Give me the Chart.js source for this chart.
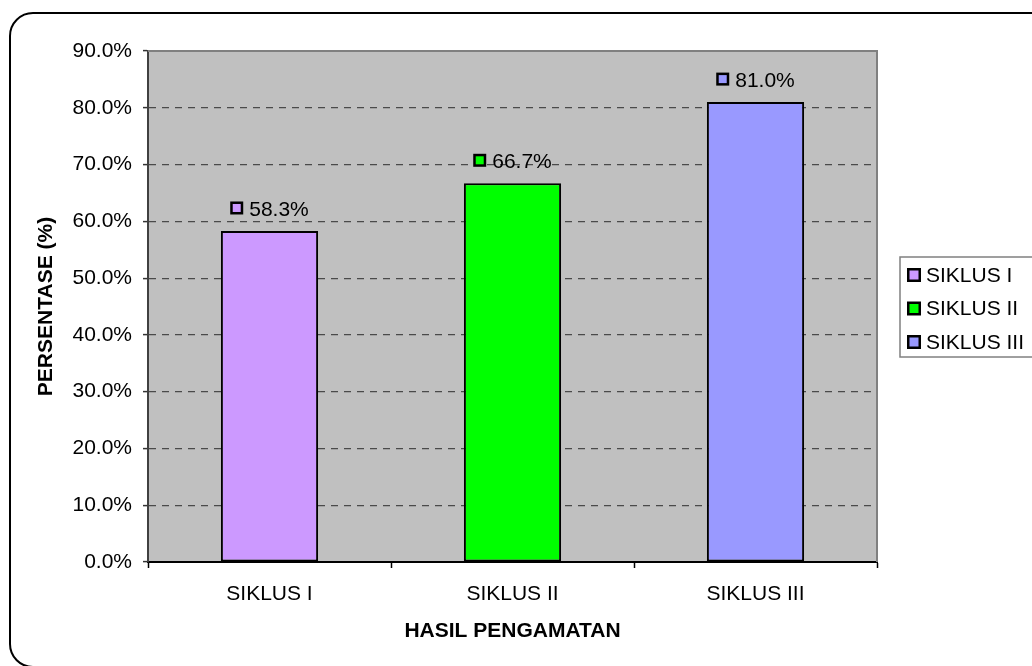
<!DOCTYPE html>
<html>
<head>
<meta charset="utf-8">
<script src="https://cdn.jsdelivr.net/npm/chart.js@4.4.0/dist/chart.umd.min.js"></script>
<style>
  html, body { margin: 0; padding: 0; background: #fff; overflow: hidden; }
  #frame {
    position: absolute; left: 9px; top: 12px; width: 1100px; height: 656px;
    border: 2px solid #000; border-radius: 24px; box-sizing: border-box;
  }
  #chart { position: absolute; left: 0; top: 0; }
</style>
</head>
<body>
<div id="frame"></div>
<canvas id="chart" width="1032" height="666"></canvas>
<script>
// データ
const categories = ['SIKLUS I', 'SIKLUS II', 'SIKLUS III'];
const seriesNames = ['SIKLUS I', 'SIKLUS II', 'SIKLUS III'];
const seriesValues = [58.3, 66.7, 81.0];
const seriesColors = ['#CC99FF', '#00FF00', '#9999FF'];
const yTicks = [0, 10, 20, 30, 40, 50, 60, 70, 80, 90];

const FONT = "'Liberation Sans', Arial, sans-serif";
Chart.defaults.font.family = FONT;
Chart.defaults.color = '#000';

// 凡例キー（黒枠つきの小さい四角）
function drawKey(ctx, x, y, s, color) {
  ctx.fillStyle = '#000';
  ctx.fillRect(x, y, s, s);
  ctx.fillStyle = color;
  ctx.fillRect(x + 2.5, y + 2.5, s - 5, s - 5);
}

// ---------- プロット背景と枠 ----------
const plotAreaPlugin = {
  id: 'plotArea',
  beforeDraw(chart) {
    const { ctx, chartArea: a } = chart;
    ctx.save();
    ctx.fillStyle = '#C0C0C0';
    ctx.fillRect(a.left, a.top, a.right - a.left, a.bottom - a.top);
    ctx.restore();
  },
  beforeDatasetsDraw(chart) {
    const { ctx, chartArea: a } = chart;
    ctx.save();
    ctx.strokeStyle = '#808080';
    ctx.lineWidth = 2;
    ctx.beginPath();
    ctx.moveTo(a.left, a.top);
    ctx.lineTo(a.right, a.top);
    ctx.lineTo(a.right, a.bottom);
    ctx.stroke();
    ctx.restore();
  }
};

// ---------- データラベル ----------
const valueLabelPlugin = {
  id: 'valueLabels',
  afterDatasetsDraw(chart) {
    const ctx = chart.ctx;
    ctx.save();
    ctx.font = '21px ' + FONT;
    ctx.textBaseline = 'middle';
    ctx.textAlign = 'left';
    chart.data.datasets.forEach((ds, i) => {
      const meta = chart.getDatasetMeta(i);
      ds.data.forEach((v, j) => {
        if (v == null) return;
        const bar = meta.data[j];
        const text = v.toFixed(1) + '%';
        const w = ctx.measureText(text).width;
        const box = 13, gap = 6;
        const x0 = bar.x - (box + gap + w) / 2;
        const cy = bar.y - 22;
        drawKey(ctx, x0, cy - box / 2 - 1, box, ds.backgroundColor);
        ctx.fillStyle = '#000';
        ctx.fillText(text, x0 + box + gap, cy + 1);
      });
    });
    ctx.restore();
  }
};

// ---------- 凡例（枠つき） ----------
const legendBoxPlugin = {
  id: 'legendBox',
  afterDraw(chart) {
    const ctx = chart.ctx;
    ctx.save();
    ctx.fillStyle = '#fff';
    ctx.fillRect(900, 257, 200, 100);
    ctx.strokeStyle = '#808080';
    ctx.lineWidth = 1.5;
    ctx.strokeRect(900, 257, 200, 100);
    ctx.font = '21px ' + FONT;
    ctx.textBaseline = 'middle';
    ctx.textAlign = 'left';
    chart.data.datasets.forEach((ds, i) => {
      const cy = 275 + i * 33.5;
      drawKey(ctx, 907, cy - 7, 14, ds.backgroundColor);
      ctx.fillStyle = '#000';
      ctx.fillText(ds.label, 926, cy + 1);
    });
    ctx.restore();
  }
};

const datasets = seriesNames.map((name, i) => ({
  label: name,
  data: categories.map((_, j) => (j === i ? seriesValues[i] : null)),
  backgroundColor: seriesColors[i],
  borderColor: '#000',
  borderWidth: 2,
  borderSkipped: false,
  grouped: false,
  barPercentage: 0.4,
  categoryPercentage: 1.0
}));

new Chart(document.getElementById('chart'), {
  type: 'bar',
  data: { labels: categories, datasets: datasets },
  options: {
    responsive: false,
    animation: false,
    devicePixelRatio: 1,
    layout: { padding: { left: 20, right: 155, top: 51, bottom: 0 } },
    plugins: {
      legend: { display: false },
      tooltip: { enabled: false }
    },
    scales: {
      x: {
        afterFit: (scale) => { scale.height = 104; },
        grid: {
          offset: true,
          drawOnChartArea: false,
          tickColor: '#000',
          tickLength: 6,
          tickWidth: 1.5
        },
        border: { display: true, color: '#000', width: 2 },
        ticks: { font: { size: 21 }, color: '#000', padding: 14 },
        title: {
          display: true,
          text: 'HASIL PENGAMATAN',
          font: { size: 21, weight: 'bold' },
          color: '#000',
          padding: { top: 0, bottom: 22 }
        }
      },
      y: {
        min: 0,
        max: 90,
        afterFit: (scale) => { scale.width = 128; },
        afterBuildTicks: (scale) => { scale.ticks = yTicks.map((v) => ({ value: v })); },
        grid: {
          color: (ctx) => (ctx.tick && (ctx.tick.value === 0 || ctx.tick.value === 90) ? 'rgba(0,0,0,0)' : '#4a4a4a'),
          lineWidth: 1.2,
          tickColor: '#333',
          tickLength: 5,
          tickWidth: 1.5
        },
        border: { display: true, color: '#404040', width: 2, dash: [7, 6] },
        ticks: {
          font: { size: 21 },
          color: '#000',
          padding: 11,
          callback: (v) => v.toFixed(1) + '%'
        },
        title: {
          display: true,
          text: 'PERSENTASE (%)',
          font: { size: 21, weight: 'bold' },
          color: '#000',
          padding: { top: 14, bottom: 0 }
        }
      }
    }
  },
  plugins: [plotAreaPlugin, valueLabelPlugin, legendBoxPlugin]
});
</script>
</body>
</html>
